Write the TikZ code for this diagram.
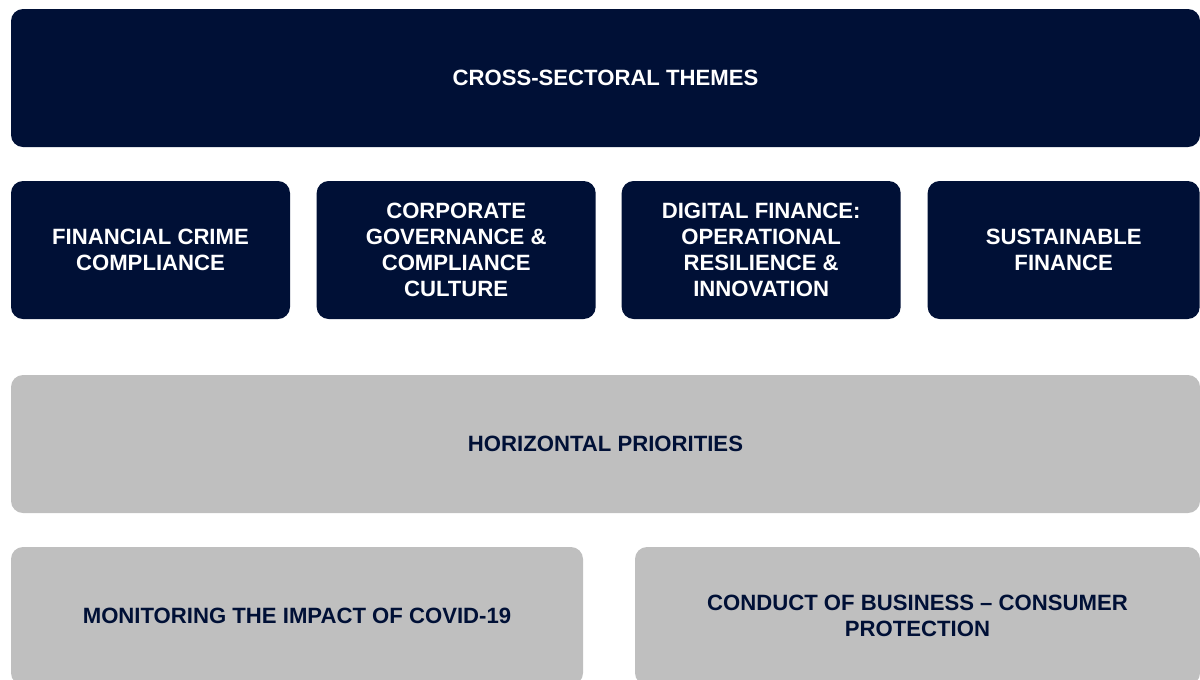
\documentclass[tikz,border=0pt]{standalone}
\usepackage{fontspec}
\setmainfont{Liberation Sans}
\usepackage{tikz}
\usetikzlibrary{positioning}
\definecolor{navy}{RGB}{0,16,54}
\definecolor{lightgrey}{RGB}{191,191,191}
\tikzset{
  theme/.style={fill=navy, text=white, rounded corners=9pt, inner sep=0pt, outer sep=0pt,
    align=center, font=\bfseries\fontsize{16.6}{19.5}\selectfont},
  priority/.style={theme, fill=lightgrey, text=navy},
}

\begin{document}
\begin{tikzpicture}[x=0.75pt, y=-0.75pt]
        \useasboundingbox (0,0) rectangle (1200,679);
        \clip (0,0) rectangle (1200,679);
        % Cross-sectoral themes
        \node[theme, anchor=north west, minimum width=891.75pt, minimum height=103.5pt] at (11,9) (Themes) {CROSS-SECTORAL THEMES};
        \node[theme, minimum width=209.25pt, minimum height=103.5pt, below right=25.5pt and 0pt of Themes.south west] (Crime) {FINANCIAL CRIME\\COMPLIANCE};
        \node[theme, minimum width=209.25pt, minimum height=103.5pt, right=20pt of Crime] (Governance) {CORPORATE\\GOVERNANCE \&\\COMPLIANCE\\CULTURE};
        \node[theme, minimum width=209.25pt, minimum height=103.5pt, right=19.5pt of Governance] (Digital) {DIGITAL FINANCE:\\OPERATIONAL\\RESILIENCE \&\\INNOVATION};
        \node[theme, minimum width=204pt, minimum height=103.5pt, right=20.25pt of Digital] (Sustainable) {SUSTAINABLE\\FINANCE};
        % Horizontal priorities
        \node[priority, minimum width=891.75pt, minimum height=103.5pt, below right=42pt and 0pt of Crime.south west] (Priorities) {HORIZONTAL PRIORITIES};
        \node[priority, minimum width=429pt, minimum height=103.5pt, below right=25.5pt and 0pt of Priorities.south west] (Covid) {MONITORING THE IMPACT OF COVID-19};
        \node[priority, minimum width=423.75pt, minimum height=103.5pt, right=39pt of Covid] (Conduct) {CONDUCT OF BUSINESS – CONSUMER\\PROTECTION};
    \end{tikzpicture}
\end{document}
